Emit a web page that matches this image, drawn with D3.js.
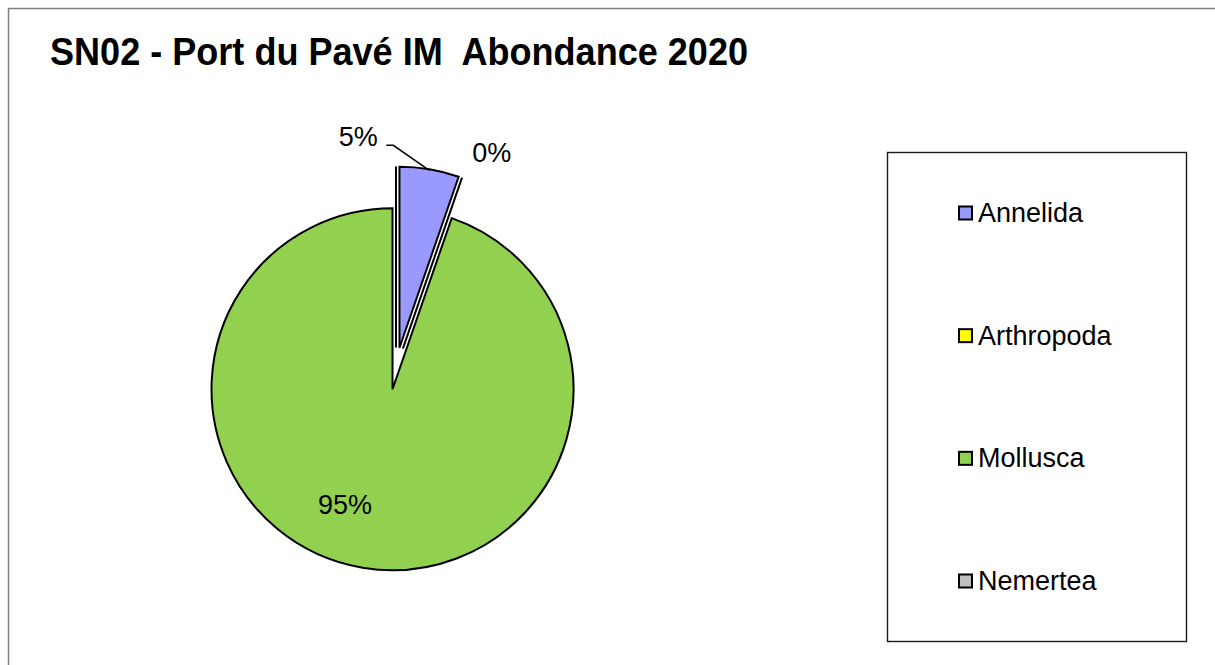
<!DOCTYPE html>
<html>
<head>
<meta charset="utf-8">
<script src="https://cdn.jsdelivr.net/npm/d3@7"></script>
<style>
  html, body { margin: 0; padding: 0; background: #fff; }
  svg { display: block; }
  text { font-family: "Liberation Sans", Arial, sans-serif; }
</style>
</head>
<body>
<svg id="chart" width="1215" height="665"></svg>
<script>
// Abundance share per phylum (%), station SN02 - Port du Pavé, 2020
const phyla = ["Annelida", "Arthropoda", "Mollusca", "Nemertea"];
const shares = [5.3, 0, 94.7, 0];
const colors = ["#9999FF", "#FFFF00", "#92D050", "#C0C0C0"];
const titleText = "SN02 - Port du Pavé IM  Abondance 2020";

const svg = d3.select("#chart");
const W = 1215, H = 665;

// chart frame
svg.append("rect")
  .attr("x", 8.5).attr("y", 8.5)
  .attr("width", W).attr("height", H)
  .attr("fill", "#fff")
  .attr("stroke", "#7f7f7f").attr("stroke-width", 1.5);

// title (condensed bold)
svg.append("text")
  .attr("x", 50).attr("y", 65)
  .attr("font-size", 38.5).attr("font-weight", "bold")
  .attr("textLength", 698).attr("lengthAdjust", "spacingAndGlyphs")
  .style("white-space", "pre")
  .attr("fill", "#000")
  .text(titleText);

// pie: every slice pulled out from the centre by the same distance
const cx = 396, cy = 368.5, R = 181, explode = 21;
const pie = d3.pie().sort(null).value(d => d.v).startAngle(0).endAngle(2 * Math.PI);
const data = phyla.map((p, i) => ({ name: p, v: shares[i], color: colors[i] }));
const arcs = pie(data);
const arc = d3.arc().innerRadius(0).outerRadius(R);

const g = svg.append("g").attr("transform", `translate(${cx},${cy})`);

const midAngle = a => (a.startAngle + a.endAngle) / 2;
const polar = (r, ang) => [r * Math.sin(ang), -r * Math.cos(ang)];
const offset = a => polar(explode, midAngle(a));

// draw big slices first, zero-width ones on top as edge lines
const order = arcs.slice().sort((a, b) => (b.endAngle - b.startAngle) - (a.endAngle - a.startAngle));
g.selectAll("path.slice")
  .data(order)
  .join("path")
  .attr("class", "slice")
  .attr("transform", d => { const o = offset(d); return `translate(${o[0]},${o[1]})`; })
  .attr("d", d => {
    if (d.endAngle - d.startAngle > 1e-6) return arc(d);
    const p = polar(R, d.startAngle);
    return `M0,0L${p[0]},${p[1]}`;
  })
  .attr("fill", d => d.data.color)
  .attr("stroke", "#000")
  .attr("stroke-width", 2)
  .attr("stroke-linejoin", "miter");

// percentage labels
const pct = v => Math.round(v) + "%";
const labelFont = 27;
function label(x, y, txt) {
  g.append("text")
    .attr("x", x).attr("y", y)
    .attr("text-anchor", "middle").attr("dominant-baseline", "central")
    .attr("font-size", labelFont).attr("fill", "#000")
    .text(txt);
}

// Mollusca label inside the slice
const moll = arcs[2];
const mp = polar(explode + R * 0.65, midAngle(moll));
label(mp[0] - 28, mp[1], pct(moll.data.v));

// Annelida label outside, with leader line to the slice top
const ann = arcs[0];
const tip = polar(explode + R - 1, midAngle(ann));
const annLabel = [tip[0] - 71, tip[1] - 33];
label(annLabel[0], annLabel[1], pct(ann.data.v));
g.append("polyline")
  .attr("points", [[annLabel[0] + 28, annLabel[1] + 8], [annLabel[0] + 35, annLabel[1] + 8], tip].map(p => p.join(",")).join(" "))
  .attr("fill", "none").attr("stroke", "#000").attr("stroke-width", 1.5);

// Arthropoda label outside, right of the pulled-out group
const arth = arcs[1];
const ap = polar(explode + R + 36, arth.startAngle);
label(ap[0] + 18, ap[1] + 9, pct(arth.data.v));

// legend
const legend = svg.append("g");
legend.append("rect")
  .attr("x", 887.5).attr("y", 152.5)
  .attr("width", 299).attr("height", 489)
  .attr("fill", "#fff").attr("stroke", "#1a1a1a").attr("stroke-width", 1.4);

const ly = d3.scalePoint().domain(phyla).range([213, 581]);
const items = legend.selectAll("g.item").data(data).join("g")
  .attr("class", "item")
  .attr("transform", d => `translate(958,${ly(d.name)})`);
items.append("rect")
  .attr("x", 1).attr("y", -6.5).attr("width", 13).attr("height", 13)
  .attr("fill", d => d.color).attr("stroke", "#000").attr("stroke-width", 2);
items.append("text")
  .attr("x", 20).attr("y", 0)
  .attr("dominant-baseline", "central")
  .attr("font-size", 27).attr("fill", "#000")
  .text(d => d.name);
</script>
</body>
</html>
